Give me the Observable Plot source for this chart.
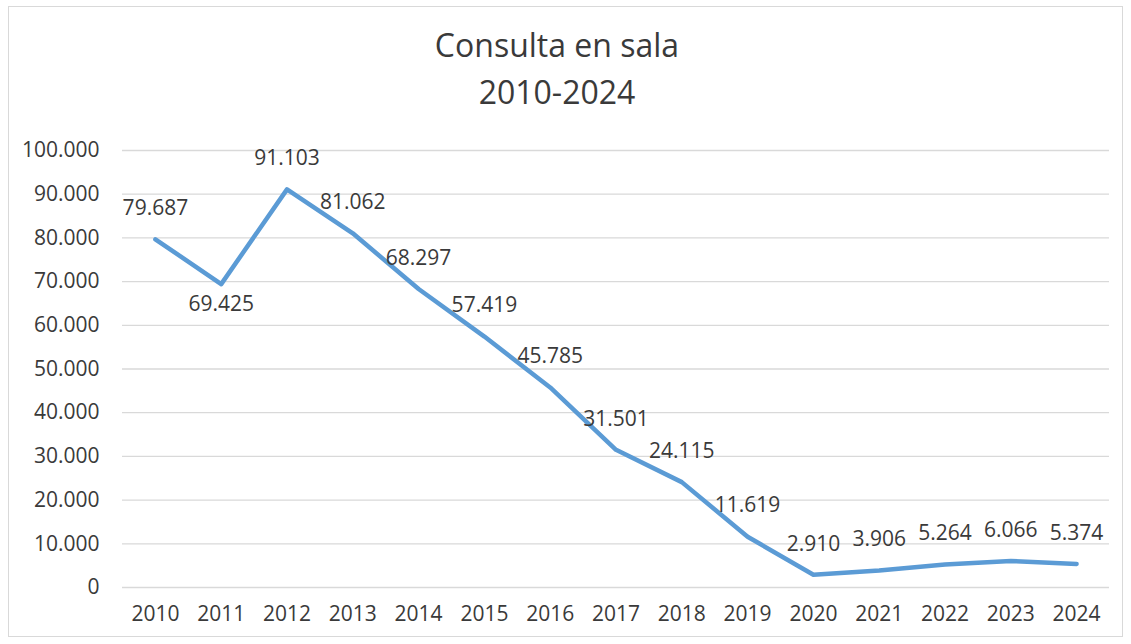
<!DOCTYPE html>
<html>
<head>
<meta charset="utf-8">
<script src="https://cdn.jsdelivr.net/npm/d3@7"></script>
<script src="https://cdn.jsdelivr.net/npm/@observablehq/plot@0.6"></script>
<style>
  html, body { margin: 0; padding: 0; background: #fff; }
  #wrap { position: relative; width: 1131px; height: 644px; overflow: hidden; font-family: "Open Sans", sans-serif; }
  #frame { position: absolute; left: 8px; top: 6px; width: 1115px; height: 631px; border: 1px solid #d9d9d9; box-sizing: border-box; }
  #title { position: absolute; left: 0; width: 1114px; top: 21px; text-align: center; color: #3a3a3a; font-size: 32px; line-height: 47px; }
  #chart { position: absolute; left: 0; top: 0; }
</style>
</head>
<body>
<div id="wrap">
  <div id="frame"></div>
  <div id="chart"></div>
  <div id="title">Consulta en sala<br>2010-2024</div>
</div>
<script>
const years = ["2010","2011","2012","2013","2014","2015","2016","2017","2018","2019","2020","2021","2022","2023","2024"];
const visits = [79687, 69425, 91103, 81062, 68297, 57419, 45785, 31501, 24115, 11619, 2910, 3906, 5264, 6066, 5374];
const yTicks = [0, 10000, 20000, 30000, 40000, 50000, 60000, 70000, 80000, 90000, 100000];
const labelsBelow = ["2011"];

const data = years.map((y, i) => ({year: y, value: visits[i]}));
const locale = d3.formatLocale({decimal: ",", thousands: ".", grouping: [3], currency: ["", ""]});
const fmt = locale.format(",d");

const textColor = "#3a3a3a";
const chart = Plot.plot({
  width: 1131,
  height: 644,
  marginTop: 150,
  marginBottom: 57,
  marginLeft: 122,
  marginRight: 22,
  style: {fontFamily: "Open Sans, sans-serif", fontSize: "21px", color: textColor, background: "transparent"},
  x: {type: "point", domain: years, padding: 0.5, round: false, label: null},
  y: {domain: [0, 100000], ticks: yTicks, tickFormat: fmt, label: null},
  marks: [
    Plot.gridY(yTicks, {stroke: "#d9d9d9", strokeOpacity: 1, strokeWidth: 1.3}),
    Plot.axisY(yTicks, {tickSize: 0, tickPadding: 23, tickFormat: fmt, fontSize: 21, fill: textColor}),
    Plot.axisX(years, {tickSize: 0, tickPadding: 19, fontSize: 21, fill: textColor}),
    Plot.line(data, {x: "year", y: "value", stroke: "#5b9bd5", strokeWidth: 4.5, strokeLinejoin: "round"}),
    Plot.text(data.filter(d => !labelsBelow.includes(d.year)), {x: "year", y: "value", text: d => fmt(d.value), dy: -31, fontSize: 21, fill: textColor}),
    Plot.text(data.filter(d => labelsBelow.includes(d.year)), {x: "year", y: "value", text: d => fmt(d.value), dy: 20, fontSize: 21, fill: textColor})
  ]
});
document.getElementById("chart").appendChild(chart);
</script>
</body>
</html>
